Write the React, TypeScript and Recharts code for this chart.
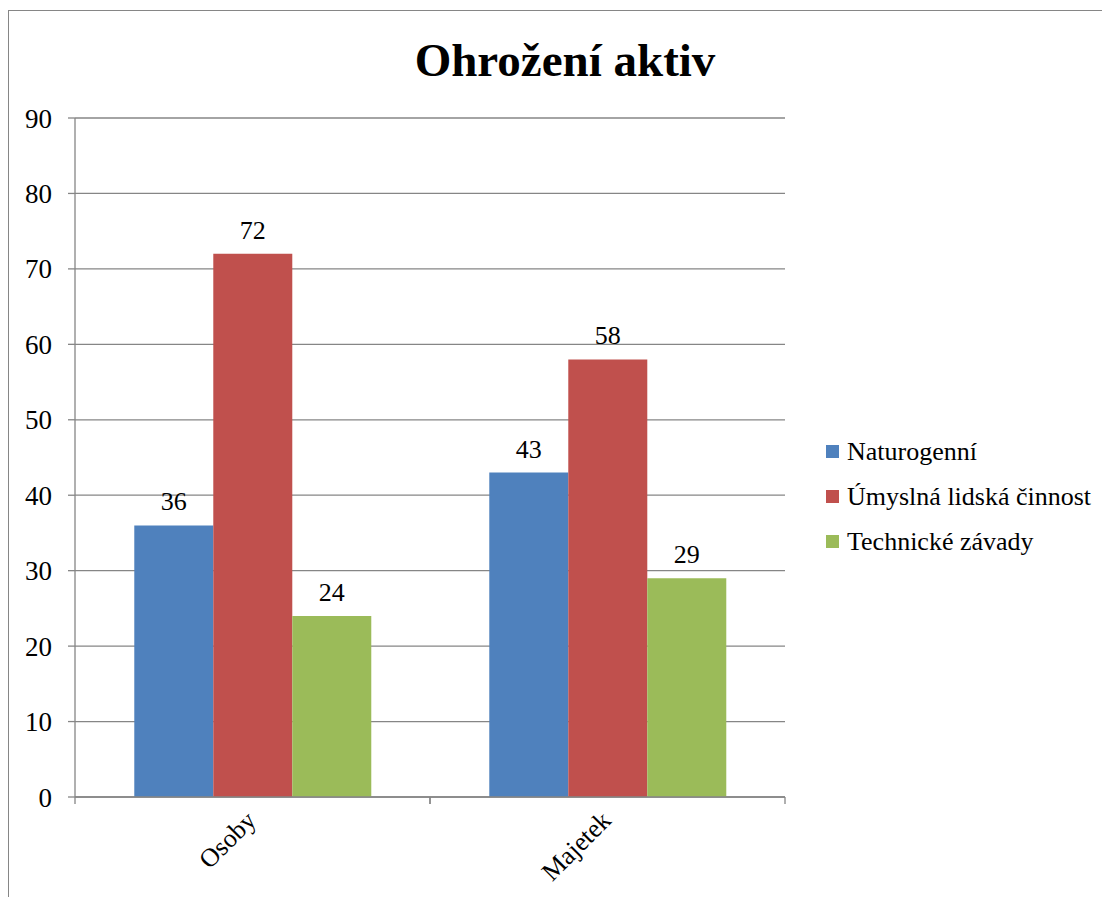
import React from "react";
import { BarChart, Bar, XAxis, YAxis, CartesianGrid, Legend, LabelList } from "recharts";

const categories = ["Osoby", "Majetek"];
const naturogenni = [36, 43];
const umyslna = [72, 58];
const technicke = [24, 29];
const seriesNames = ["Naturogenní", "Úmyslná lidská činnost", "Technické závady"];
const seriesColors = ["#4F81BD", "#C0504D", "#9BBB59"];
const yTicks = [0, 10, 20, 30, 40, 50, 60, 70, 80, 90];

const FONT = "'Liberation Serif', 'Times New Roman', serif";
const AXIS = "#868686";

const data = categories.map((c, i) => ({
  name: c,
  s0: naturogenni[i],
  s1: umyslna[i],
  s2: technicke[i],
}));

function CategoryTick(props: any) {
  const { x, y, payload } = props;
  const half = payload.offset ?? 0;
  const axisY = y - 7;
  const ax = x + 5;
  const ay = y + 18;
  return (
    <g>
      <line x1={x - half} x2={x - half} y1={axisY} y2={axisY + 7} stroke={AXIS} strokeWidth={1.3} />
      <line x1={x + half} x2={x + half} y1={axisY} y2={axisY + 7} stroke={AXIS} strokeWidth={1.3} />
      <text x={ax} y={ay} transform={`rotate(-45 ${ax} ${ay})`} textAnchor="end" fontSize={26} fontFamily={FONT} fill="#000">
        {payload.value}
      </text>
    </g>
  );
}

function LegendBox() {
  return (
    <div style={{ fontFamily: FONT, fontSize: 26, color: "#000" }}>
      {seriesNames.map((n, i) => (
        <div key={n} style={{ display: "flex", alignItems: "center", height: 45 }}>
          <span style={{ width: 13, height: 13, background: seriesColors[i], display: "inline-block", marginRight: 8 }} />
          <span style={{ whiteSpace: "nowrap" }}>{n}</span>
        </div>
      ))}
    </div>
  );
}

export default function App() {
  return (
    <div style={{ position: "relative", width: 1094, height: 889, fontFamily: FONT, overflow: "hidden" }}>
      <style>{"html,body{overflow:hidden}"}</style>
      <div
        style={{
          position: "absolute",
          left: 0,
          top: 2,
          width: 1102,
          height: 887,
          borderTop: `1px solid ${AXIS}`,
          borderLeft: `1px solid ${AXIS}`,
          boxSizing: "border-box",
          pointerEvents: "none",
        }}
      />
      <div
        style={{
          position: "absolute",
          left: 0,
          top: 29,
          width: 1114,
          textAlign: "center",
          fontSize: 47,
          lineHeight: "46px",
          fontWeight: "bold",
          fontFamily: FONT,
        }}
      >
        Ohrožení aktiv
      </div>
      <BarChart
        width={1094}
        height={881}
        data={data}
        margin={{ top: 110, right: 317, left: 7, bottom: 12 }}
        barCategoryGap="16.7%"
        barGap={0}
      >
        <CartesianGrid vertical={false} stroke={AXIS} strokeWidth={1.3} />
        <XAxis
          dataKey="name"
          height={80}
          axisLine={{ stroke: AXIS, strokeWidth: 1.3 }}
          tickLine={false}
          tickSize={7}
          tickMargin={0}
          tick={<CategoryTick />}
          interval={0}
        />
        <YAxis
          width={60}
          domain={[0, 90]}
          ticks={yTicks}
          interval={0}
          axisLine={{ stroke: AXIS, strokeWidth: 1.3 }}
          tickLine={{ stroke: AXIS, strokeWidth: 1.3 }}
          tickSize={7}
          tickMargin={16}
          tick={{ fontSize: 27, fontFamily: FONT, fill: "#000" }}
        />
        <Legend
          layout="vertical"
          align="center"
          verticalAlign="middle"
          content={<LegendBox />}
          wrapperStyle={{ left: 818, top: 421, width: 280 }}
        />
        {["s0", "s1", "s2"].map((k, i) => (
          <Bar key={k} dataKey={k} name={seriesNames[i]} fill={seriesColors[i]} isAnimationActive={false}>
            <LabelList dataKey={k} position="top" offset={15} style={{ fontSize: 26, fontFamily: FONT, fill: "#000" }} />
          </Bar>
        ))}
      </BarChart>
    </div>
  );
}
